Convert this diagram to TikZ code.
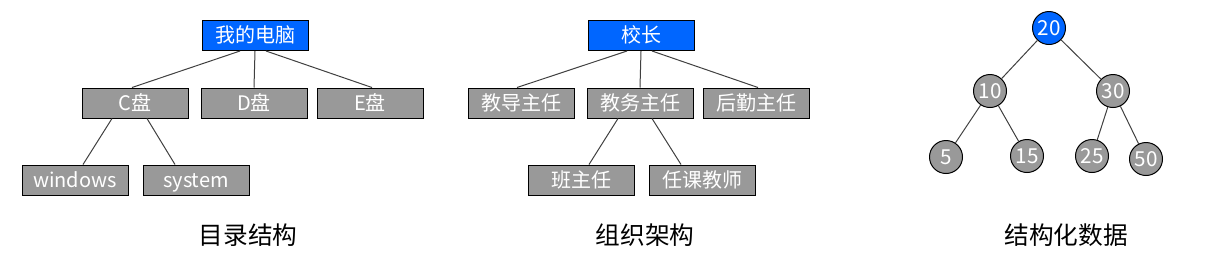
\documentclass[tikz,border=0pt]{standalone}
\usepackage{fontspec}
\setmainfont{Noto Sans CJK SC}
\usetikzlibrary{calc}

\definecolor{lanse}{HTML}{0066FF}
\definecolor{huise}{HTML}{999999}
\definecolor{xian}{HTML}{404040}

\begin{document}
\begin{tikzpicture}[x=0.75pt,y=-0.75pt,
    hezi/.style={draw=black, line width=0.75pt, fill=huise, text=white,
      minimum width=79.5pt, minimum height=22.5pt, inner sep=0pt,
      text height=12.5pt, text depth=2pt,
      font=\fontsize{15}{15}\selectfont},
    gen/.style={hezi, fill=lanse},
    yuan/.style={circle, draw=black, line width=0.75pt, fill=huise, text=white,
      minimum size=24.75pt, inner sep=0pt, font=\fontsize{15.5}{15.5}\selectfont},
    lian/.style={draw=xian, line width=0.75pt},
    biaoti/.style={font=\fontsize{18.5}{18.5}\selectfont}]
    \useasboundingbox (0,0) rectangle (1220,262);

    % 目录结构
    \node[gen]  (pc)  at (255,35.5) {我的电脑};
    \node[hezi] (c)   at (135,103) {C盘};
    \node[hezi] (d)   at (254,103) {D盘};
    \node[hezi] (e)   at (370,103) {E盘};
    \node[hezi] (win) at (75,180) {windows};
    \node[hezi] (sys) at (196,180) {system};
    \node[biaoti] (t1) at (248,235) {目录结构};

    \draw[lian] ($(pc.south)+(-15,0)$) -- ($(c.north)+(-3,0)$);
    \draw[lian] (pc.south) -- (d.north);
    \draw[lian] ($(pc.south)+(11,0)$) -- ($(e.north)+(2,0)$);
    \draw[lian] ($(c.south)+(-23,0)$) -- ($(win.north)+(8,0)$);
    \draw[lian] ($(c.south)+(12,0)$) -- ($(sys.north)+(-21,0)$);

    % 组织架构
    \node[gen]  (xz)  at (641,35.5) {校长};
    \node[hezi] (jd)  at (521,103) {教导主任};
    \node[hezi] (jw)  at (640,103) {教务主任};
    \node[hezi] (hq)  at (756,103) {后勤主任};
    \node[hezi] (bzr) at (581,180) {班主任};
    \node[hezi] (rk)  at (702,180) {任课教师};
    \node[biaoti] (t2) at (645,235) {组织架构};

    \draw[lian] ($(xz.south)+(-14,0)$) -- ($(jd.north)+(-4,0)$);
    \draw[lian] (xz.south) -- (jw.north);
    \draw[lian] ($(xz.south)+(11,0)$) -- ($(hq.north)+(2,0)$);
    \draw[lian] ($(jw.south)+(-22,0)$) -- ($(bzr.north)+(8,0)$);
    \draw[lian] ($(jw.south)+(12,0)$) -- ($(rk.north)+(-21,0)$);

    % 结构化数据
    \node[yuan, fill=lanse] (n20) at (1049,28) {20};
    \node[yuan] (n10) at (990,91) {10};
    \node[yuan] (n30) at (1113,91) {30};
    \node[yuan] (n5)  at (946,157) {5};
    \node[yuan] (n15) at (1027,156) {15};
    \node[yuan] (n25) at (1092,156) {25};
    \node[yuan] (n50) at (1146,159) {50};
    \node[biaoti] (t3) at (1066,235) {结构化数据};

    \draw[lian] (n20) -- (n10);
    \draw[lian] (n20) -- (n30);
    \draw[lian] (n10) -- (n5);
    \draw[lian] (n10) -- (n15);
    \draw[lian] (n30) -- (n25);
    \draw[lian] (n30) -- (n50);
\end{tikzpicture}
\end{document}
